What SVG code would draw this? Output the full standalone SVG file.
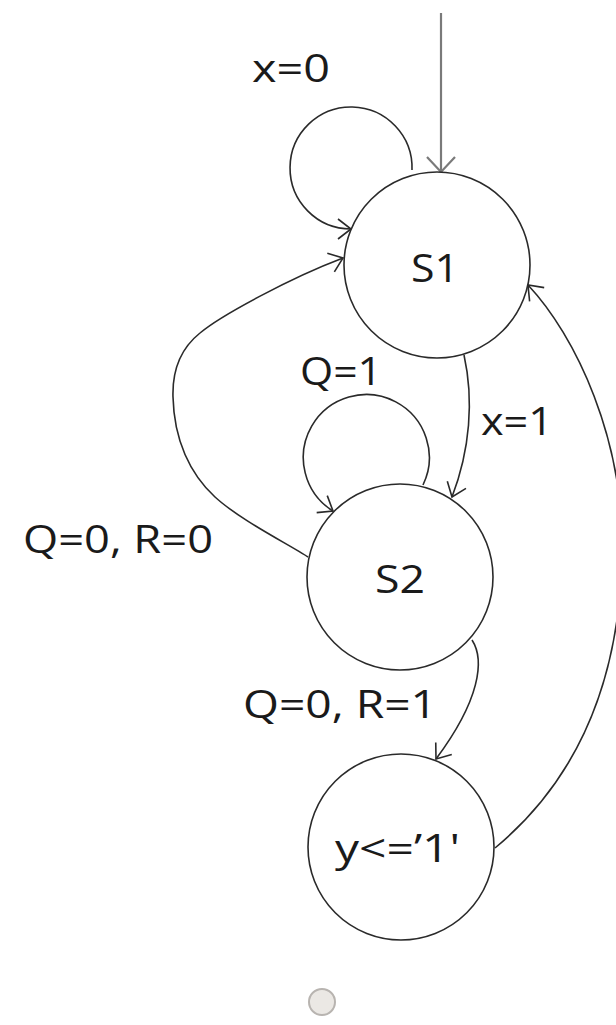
<svg xmlns="http://www.w3.org/2000/svg" width="616" height="1025" viewBox="0 0 616 1025">
  <style>
    .node { fill: #ffffff; stroke: #2a2a2a; stroke-width: 1.6; }
    .edge { fill: none; stroke: #2a2a2a; stroke-width: 1.6; }
    .init { fill: none; stroke: #7a7a7a; stroke-width: 2.2; }
    .lbl { font-family: "Open Sans", "Liberation Sans", sans-serif; font-size: 39px; fill: #1a1a1a; }
  </style>
  <defs>
    <marker id="arr" markerUnits="userSpaceOnUse" viewBox="-16 -12 18 24" refX="0" refY="0" markerWidth="18" markerHeight="24" orient="auto">
      <path d="M-13,-10 L0,0 L-13,10" fill="none" stroke="#2a2a2a" stroke-width="1.6"/>
    </marker>
    <marker id="arrInit" markerUnits="userSpaceOnUse" viewBox="-18 -16 20 32" refX="0" refY="0" markerWidth="20" markerHeight="32" orient="auto">
      <path d="M-15,-14 L0,0 L-15,14" fill="none" stroke="#7a7a7a" stroke-width="2.2"/>
    </marker>
  </defs>
  <rect width="616" height="1025" fill="#ffffff"/>

  <g id="connectors">
    <path id="e-init" class="init" d="M441,13 L441,172" marker-end="url(#arrInit)"/>
    <path id="e-s1-s1" class="edge" d="M412,170 A61,61 0 1 0 351,229" marker-end="url(#arr)"/>
    <path id="e-s1-s2" class="edge" d="M464,355 C474,400 470,450 452,497" marker-end="url(#arr)"/>
    <path id="e-s2-s2" class="edge" d="M423,485 A63,63 0 1 0 333,511" marker-end="url(#arr)"/>
    <path id="e-s2-s1" class="edge" d="M308,557 C290,545 240,520 215,497 C190,474 174,440 173,397 C172,365 185,345 200,333 C220,316 290,278 343,258" marker-end="url(#arr)"/>
    <path id="e-s2-s3" class="edge" d="M472,640 C485,660 480,700 436,759" marker-end="url(#arr)"/>
    <path id="e-s3-s1" class="edge" d="M495,848 C565,790 618,700 622,560 C626,440 575,335 528,285" marker-end="url(#arr)"/>
  </g>

  <g id="node-S1">
    <circle class="node" cx="437" cy="265" r="93"/>
    <text class="lbl" x="411" y="282" textLength="48" lengthAdjust="spacingAndGlyphs">S1</text>
  </g>
  <g id="node-S2">
    <circle class="node" cx="400" cy="577" r="93"/>
    <text class="lbl" x="375" y="593" textLength="50" lengthAdjust="spacingAndGlyphs">S2</text>
  </g>
  <g id="node-S3">
    <circle class="node" cx="401" cy="847" r="93"/>
    <text class="lbl" x="335" y="862" textLength="125" lengthAdjust="spacingAndGlyphs">y&lt;=’1'</text>
  </g>

  <g id="labels">
    <text class="lbl" x="252" y="82" textLength="78" lengthAdjust="spacingAndGlyphs">x=0</text>
    <text class="lbl" x="300" y="385" textLength="82" lengthAdjust="spacingAndGlyphs">Q=1</text>
    <text class="lbl" x="481" y="435" textLength="72" lengthAdjust="spacingAndGlyphs">x=1</text>
    <text class="lbl" x="23" y="553" textLength="190" lengthAdjust="spacingAndGlyphs">Q=0, R=0</text>
    <text class="lbl" x="243" y="718" textLength="194" lengthAdjust="spacingAndGlyphs">Q=0, R=1</text>
  </g>

  <g id="marker-dot">
    <circle cx="322" cy="1002" r="13" fill="#ebe8e4" stroke="#b8b4b0" stroke-width="2"/>
  </g>
</svg>
